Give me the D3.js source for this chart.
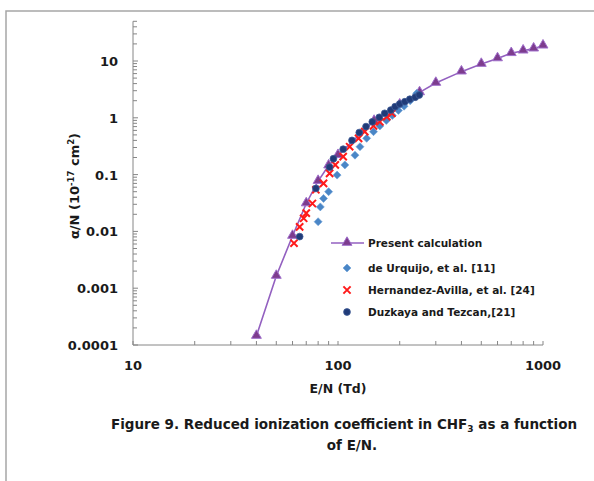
<!DOCTYPE html>
<html>
<head>
<meta charset="utf-8">
<script src="https://cdn.jsdelivr.net/npm/d3@7"></script>
<style>
  body { margin: 0; background: #fff; }
  text { font-family: "DejaVu Sans", sans-serif; font-weight: bold; }
</style>
</head>
<body>
<svg id="svg-grafico" width="594" height="481"></svg>
<script>
// datos
const calc_en = [40, 50, 60, 70, 80, 90, 100, 150, 200, 250, 300, 400, 500, 600, 700, 800, 900, 1000]
const calc_alfa = [0.000144, 0.00164, 0.0083, 0.031, 0.077, 0.144, 0.22, 0.88, 1.7, 2.8, 4.1, 6.5, 8.85, 11.1, 13.7, 15.2, 16.5, 18.6]

const urquijo_en = [80, 82, 85, 90, 99, 108, 121, 128, 138, 149, 160, 172, 184, 197, 210, 225, 242]
const urquijo_alfa = [0.0148, 0.027, 0.038, 0.05, 0.098, 0.148, 0.22, 0.31, 0.435, 0.57, 0.72, 0.9, 1.1, 1.35, 1.6, 2.0, 2.7]

const hernandez_en = [61, 65, 68, 70, 75, 78, 85, 91, 97, 106, 114, 126, 135, 149, 160, 173, 183]
const hernandez_alfa = [0.0062, 0.012, 0.017, 0.021, 0.031, 0.054, 0.07, 0.105, 0.148, 0.207, 0.31, 0.435, 0.57, 0.72, 0.85, 1.05, 1.2]

const duzkaya_en = [65, 78, 91, 95, 106, 117, 127, 137, 147, 159, 169, 181, 190, 200, 212, 224, 238, 249]
const duzkaya_alfa = [0.0081, 0.057, 0.135, 0.19, 0.28, 0.40, 0.55, 0.70, 0.85, 1.02, 1.2, 1.37, 1.57, 1.75, 1.92, 2.12, 2.3, 2.52]

const x_ticks = [10, 100, 1000]
const x_tick_labels = ["10", "100", "1000"]
const y_ticks = [0.0001, 0.001, 0.01, 0.1, 1, 10]
const y_tick_labels = ["0.0001", "0.001", "0.01", "0.1", "1", "10"]

const leyenda = ["Present calculation", "de Urquijo, et al. [11]", "Hernandez-Avilla, et al. [24]", "Duzkaya and Tezcan,[21]"]

svg = d3.select("#svg-grafico")

// marco gris de la imagen
svg.append("path")
  .attr("d", "M6,481 V11 H594")
  .style("fill", "none")
  .style("stroke", "#a6a6a6")
  .style("stroke-width", 1.5)

// escalas logaritmicas
const x = d3.scaleLog().domain([10, 1000]).range([133, 543])
const y = d3.scaleLog().domain([0.0001, 50]).range([345, 21.3])

const color_eje = "#868686"

// ejes
svg.append("line")
  .attr("x1", x(10)).attr("x2", x(1000))
  .attr("y1", y(0.0001)).attr("y2", y(0.0001))
  .style("stroke", color_eje)
svg.append("line")
  .attr("x1", x(10)).attr("x2", x(10))
  .attr("y1", y(0.0001)).attr("y2", y(50))
  .style("stroke", color_eje)

// marcas hacia dentro (menores y mayores)
x.ticks().forEach(function(t){
  svg.append("line")
    .attr("x1", x(t)).attr("x2", x(t))
    .attr("y1", y(0.0001)).attr("y2", y(0.0001) - 4)
    .style("stroke", color_eje)
})
y.ticks().forEach(function(t){
  const mayor = y_ticks.indexOf(t) >= 0
  svg.append("line")
    .attr("x1", x(10)).attr("x2", x(10) + (mayor ? 5 : 4))
    .attr("y1", y(t)).attr("y2", y(t))
    .style("stroke", color_eje)
})

// etiquetas de los ejes
x_ticks.forEach(function(t, i){
  svg.append("text")
    .attr("x", x(t)).attr("y", y(0.0001) + 25)
    .attr("text-anchor", "middle")
    .style("font-size", "13px")
    .style("fill", "#1a1a1a")
    .text(x_tick_labels[i])
})
y_ticks.forEach(function(t, i){
  svg.append("text")
    .attr("x", x(10) - 15).attr("y", y(t) + 5)
    .attr("text-anchor", "end")
    .style("font-size", "13px")
    .style("fill", "#1a1a1a")
    .text(y_tick_labels[i])
})

// titulos de ejes
svg.append("text")
  .attr("x", 338).attr("y", 393)
  .attr("text-anchor", "middle")
  .style("font-size", "12.5px")
  .style("fill", "#1a1a1a")
  .text("E/N (Td)")

const titulo_y = svg.append("text")
  .attr("transform", "translate(79,186) rotate(-90)")
  .attr("text-anchor", "middle")
  .style("font-size", "13px")
  .style("fill", "#1a1a1a")
titulo_y.append("tspan").text("α/N (10")
titulo_y.append("tspan").attr("dy", -5).style("font-size", "8.5px").text("-17")
titulo_y.append("tspan").attr("dy", 5).text(" cm")
titulo_y.append("tspan").attr("dy", -5).style("font-size", "8.5px").text("2")
titulo_y.append("tspan").attr("dy", 5).text(")")

// linea del calculo
const linea = d3.line()
  .x(function(d, i){ return x(calc_en[i]) })
  .y(function(d, i){ return y(calc_alfa[i]) })
svg.append("path")
  .attr("d", linea(calc_en))
  .style("fill", "none")
  .style("stroke", "#9360c0")
  .style("stroke-width", 1.6)

const triangulo = d3.symbol().type(d3.symbolTriangle).size(42)

// funciones que dibujan cada marcador
function crearTriangulo(cx, cy){
  svg.append("path")
    .attr("d", triangulo())
    .attr("transform", "translate(" + cx + "," + (cy - 0.5) + ")")
    .style("fill", "#7d3c8e")
    .style("stroke", "#a070cc")
    .style("stroke-width", 1)
}
function crearRombo(cx, cy){
  // rombo cuadrado (mismo ancho y alto)
  const r = 4
  svg.append("path")
    .attr("d", "M" + cx + "," + (cy - r) + "L" + (cx + r) + "," + cy +
               "L" + cx + "," + (cy + r) + "L" + (cx - r) + "," + cy + "Z")
    .style("fill", "#4a86c6")
    .style("stroke", "#6b9fd6")
    .style("stroke-width", 0.6)
}
function crearEquis(cx, cy){
  const r = 3.6
  svg.append("path")
    .attr("d", "M" + (cx - r) + "," + (cy - r) + "L" + (cx + r) + "," + (cy + r) +
               "M" + (cx - r) + "," + (cy + r) + "L" + (cx + r) + "," + (cy - r))
    .style("stroke", "#ff1a1a")
    .style("stroke-width", 2)
}
function crearCirculo(cx, cy){
  svg.append("circle")
    .attr("cx", cx).attr("cy", cy)
    .attr("r", 3.4)
    .style("fill", "#203b78")
    .style("stroke", "#3e5a96")
    .style("stroke-width", 0.8)
}

calc_en.forEach(function(e, i){ crearTriangulo(x(e), y(calc_alfa[i])) })
urquijo_en.forEach(function(e, i){ crearRombo(x(e), y(urquijo_alfa[i])) })
hernandez_en.forEach(function(e, i){ crearEquis(x(e), y(hernandez_alfa[i])) })
duzkaya_en.forEach(function(e, i){ crearCirculo(x(e), y(duzkaya_alfa[i])) })

// leyenda
const ley_x = 347
const ley_y = [243, 268, 290, 312]
svg.append("line")
  .attr("x1", ley_x - 16).attr("x2", ley_x + 17)
  .attr("y1", ley_y[0]).attr("y2", ley_y[0])
  .style("stroke", "#9360c0")
  .style("stroke-width", 1.6)
crearTriangulo(ley_x, ley_y[0])
crearRombo(ley_x, ley_y[1])
crearEquis(ley_x, ley_y[2])
crearCirculo(ley_x, ley_y[3])
leyenda.forEach(function(t, i){
  svg.append("text")
    .attr("x", 368).attr("y", ley_y[i] + 4)
    .style("font-size", "10.5px")
    .style("fill", "#1a1a1a")
    .text(t)
})

// pie de figura
const pie1 = svg.append("text")
  .attr("x", 344).attr("y", 429)
  .attr("text-anchor", "middle")
  .style("font-size", "13.5px")
  .style("fill", "#1a1a1a")
pie1.append("tspan").text("Figure 9. Reduced ionization coefficient in CHF")
pie1.append("tspan").attr("dy", 3).style("font-size", "9px").text("3")
pie1.append("tspan").attr("dy", -3).text(" as a function")
svg.append("text")
  .attr("x", 352).attr("y", 450)
  .attr("text-anchor", "middle")
  .style("font-size", "13.5px")
  .style("fill", "#1a1a1a")
  .text("of E/N.")
</script>
</body>
</html>
